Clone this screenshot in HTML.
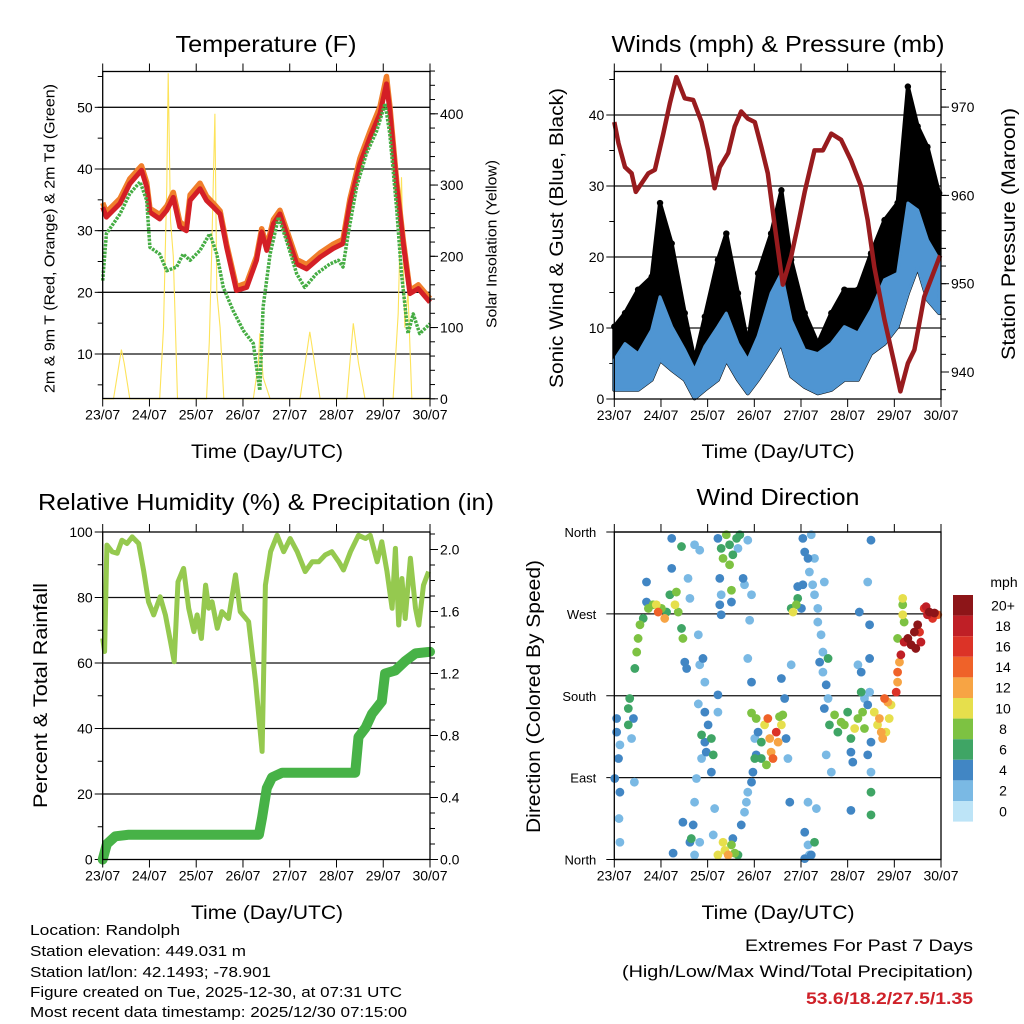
<!DOCTYPE html>
<html><head><meta charset="utf-8"><title>Station Meteogram</title>
<style>
html,body{margin:0;padding:0;background:#fff;}
svg{display:block;font-family:"Liberation Sans",sans-serif;}
</style></head>
<body>
<svg id="chart" width="1024" height="1024" viewBox="0 0 1024 1024" xmlns="http://www.w3.org/2000/svg">
<rect x="0" y="0" width="1024" height="1024" fill="#fff"/>
<text x="266" y="52" font-size="23" text-anchor="middle" textLength="181" lengthAdjust="spacingAndGlyphs">Temperature (F)</text>
<text x="778" y="52" font-size="23" text-anchor="middle" textLength="333" lengthAdjust="spacingAndGlyphs">Winds (mph) &amp; Pressure (mb)</text>
<text x="266" y="510" font-size="23" text-anchor="middle" textLength="456" lengthAdjust="spacingAndGlyphs">Relative Humidity (%) &amp; Precipitation (in)</text>
<text x="778" y="505" font-size="23" text-anchor="middle" textLength="163" lengthAdjust="spacingAndGlyphs">Wind Direction</text>
<text x="267" y="458" font-size="19" text-anchor="middle" textLength="152" lengthAdjust="spacingAndGlyphs">Time (Day/UTC)</text>
<text x="778" y="458" font-size="19" text-anchor="middle" textLength="153" lengthAdjust="spacingAndGlyphs">Time (Day/UTC)</text>
<text x="267" y="919" font-size="19" text-anchor="middle" textLength="152" lengthAdjust="spacingAndGlyphs">Time (Day/UTC)</text>
<text x="778" y="919" font-size="19" text-anchor="middle" textLength="153" lengthAdjust="spacingAndGlyphs">Time (Day/UTC)</text>
<text transform="translate(54.5,238.5) rotate(-90)" font-size="15" text-anchor="middle" textLength="309" lengthAdjust="spacingAndGlyphs">2m &amp; 9m T (Red, Orange) &amp; 2m Td (Green)</text>
<text transform="translate(496.5,244) rotate(-90)" font-size="15" text-anchor="middle" textLength="168" lengthAdjust="spacingAndGlyphs">Solar Insolation (Yellow)</text>
<text transform="translate(563,238) rotate(-90)" font-size="19" text-anchor="middle" textLength="300" lengthAdjust="spacingAndGlyphs">Sonic Wind &amp; Gust (Blue, Black)</text>
<text transform="translate(1015,234) rotate(-90)" font-size="19" text-anchor="middle" textLength="252" lengthAdjust="spacingAndGlyphs">Station Pressure (Maroon)</text>
<text transform="translate(47,695.5) rotate(-90)" font-size="19" text-anchor="middle" textLength="225" lengthAdjust="spacingAndGlyphs">Percent &amp; Total Rainfall</text>
<text transform="translate(540,696.5) rotate(-90)" font-size="19" text-anchor="middle" textLength="273" lengthAdjust="spacingAndGlyphs">Direction (Colored By Speed)</text>
<g font-size="15">
<text x="30" y="935" textLength="150" lengthAdjust="spacingAndGlyphs">Location: Randolph</text>
<text x="30" y="956" textLength="216" lengthAdjust="spacingAndGlyphs">Station elevation: 449.031 m</text>
<text x="30" y="977" textLength="241" lengthAdjust="spacingAndGlyphs">Station lat/lon: 42.1493; -78.901</text>
<text x="30" y="997" textLength="372" lengthAdjust="spacingAndGlyphs">Figure created on Tue, 2025-12-30, at 07:31 UTC</text>
<text x="30" y="1017" textLength="377" lengthAdjust="spacingAndGlyphs">Most recent data timestamp: 2025/12/30 07:15:00</text>
</g>
<g font-size="17" text-anchor="end">
<text x="973" y="951" textLength="228" lengthAdjust="spacingAndGlyphs">Extremes For Past 7 Days</text>
<text x="973" y="977" textLength="351" lengthAdjust="spacingAndGlyphs">(High/Low/Max Wind/Total Precipitation)</text>
<text x="973" y="1004" fill="#cf2129" font-weight="bold" textLength="167" lengthAdjust="spacingAndGlyphs">53.6/18.2/27.5/1.35</text>
</g>
</svg>
<script>
const dayLabels=["23/07","24/07","25/07","26/07","27/07","28/07","29/07","30/07"];
const tempRedDays=[0,0.08,0.37,0.58,0.83,0.94,1.01,1.22,1.37,1.51,1.65,1.79,1.87,2.08,2.22,2.37,2.51,2.65,2.86,3.08,3.29,3.40,3.51,3.65,3.79,3.93,4.15,4.36,4.65,4.93,5.14,5.29,5.50,5.72,5.93,6.07,6.14,6.29,6.43,6.57,6.75,7.0];
const tempRedVals=[33.8,32.2,34.4,37.6,39.8,37.1,33,31.9,33.3,35.4,30.6,30,34.9,36.8,34.9,33.8,32.7,27.3,20.3,20.8,25.2,29.8,26.8,31.1,32.7,29.5,24.6,23.8,25.7,27.1,27.9,34.4,40.8,45.2,49,53.8,49.5,37.1,27.9,19.8,20.6,18.4];
const tempOrangeVals=[34.5,33,35.2,38.4,40.5,37.8,33.6,32.6,34,36.2,31.4,30.6,35.8,37.7,35.6,34.4,33.2,27.8,20.9,21.5,25.8,30.3,27.4,31.8,33.3,30.2,25.3,24.5,26.4,27.8,28.6,35.2,41.7,46.2,50.1,55,50.3,37.8,28.4,20.3,21.2,19];
const tempDewDays=[0,0.08,0.37,0.58,0.80,0.94,1.01,1.22,1.37,1.58,1.72,1.87,2.08,2.29,2.44,2.58,2.79,3.01,3.22,3.36,3.43,3.58,3.76,3.93,4.15,4.32,4.57,4.86,5.04,5.14,5.25,5.43,5.64,5.86,6.04,6.14,6.29,6.39,6.53,6.64,6.78,7.0];
const tempDewVals=[21.9,29.5,32.7,36,37.9,34.9,27.3,26.2,23.5,24.1,26.2,25.2,26.8,29.5,26.2,20.8,17,13.8,11.7,4.1,17.6,26.2,32.2,28.4,23,20.8,23,24.6,25.2,24.1,29.5,37.1,42.5,46.2,50.6,45.7,33.3,23,13.3,16.5,13.3,14.9];
const solarDays=[0,0.23,0.33,0.40,0.46,0.58,1.22,1.30,1.37,1.40,1.45,1.51,1.60,2.22,2.28,2.33,2.40,2.44,2.51,2.59,3.22,3.33,3.36,3.43,3.58,4.22,4.43,4.65,5.22,5.36,5.47,5.61,6.21,6.32,6.39,6.46,6.53,6.61,7.0];
const solarVals=[0,0,40,69,50,0,0,100,300,457,250,200,0,0,80,200,400,150,100,0,0,50,92,30,0,0,94,0,0,106,50,0,0,120,311,100,150,0,0];
const windDays=[0.0,0.23,0.51,0.80,0.98,1.23,1.51,1.72,1.94,2.22,2.40,2.65,2.86,3.08,3.36,3.58,3.79,4.08,4.36,4.65,4.93,5.22,5.50,5.79,6.07,6.29,6.50,6.71,6.96];
const windLow=[1.3,1.3,1.3,2.7,5.5,4.1,2.7,0.1,1.3,2.7,5.5,2.7,0.8,2.7,5.5,7.8,3.2,1.7,0.8,1.3,2.7,2.7,6.4,7.8,10.2,14.9,18.6,14.0,12.1];
const windHigh=[5.5,7.8,6.4,9.7,14.4,10.2,6.9,4.1,7.4,10.2,12.1,7.8,5.5,8.8,14.9,17.7,11.1,6.9,6.4,7.8,10.2,9.3,12.5,16.8,17.7,27.6,26.6,22.4,19.6];
const gustHigh=[10.2,12.1,15.4,17.2,27.6,21.9,12.1,5.5,11.6,19.6,23.3,14.9,7.8,17.7,23.3,29.4,19.6,12.1,7.8,12.1,15.4,15.4,20.5,25.2,27.6,44.0,38.4,35.5,29.0];
const presDays=[0,0.09,0.23,0.37,0.46,0.73,0.87,1.05,1.19,1.33,1.51,1.69,1.87,2.01,2.15,2.26,2.44,2.58,2.72,2.86,3.01,3.15,3.29,3.44,3.61,3.79,3.93,4.08,4.29,4.47,4.65,4.86,5.07,5.29,5.43,5.57,5.79,6.0,6.13,6.29,6.43,6.64,6.98];
const presVals=[968.3,965.9,963.2,962.5,960.4,962.5,962.9,967,970.4,973.4,971,970.8,968.3,965.1,960.8,963.2,964.8,967.8,969.5,968.7,968.3,965.5,962.5,956.5,949.9,953.1,956.5,960.4,965.1,965.1,967,966.3,964,961,957.2,951.9,945.9,941,937.8,941,942.5,948.5,953.2];
const rhDays=[0,0.04,0.09,0.20,0.31,0.41,0.52,0.63,0.77,0.88,0.98,1.09,1.23,1.34,1.45,1.53,1.61,1.73,1.84,1.95,2.02,2.11,2.20,2.27,2.34,2.45,2.55,2.69,2.84,2.94,3.12,3.27,3.41,3.48,3.59,3.73,3.87,4.01,4.16,4.33,4.48,4.62,4.76,4.90,5.05,5.15,5.30,5.47,5.62,5.72,5.87,5.97,6.08,6.19,6.26,6.33,6.40,6.47,6.58,6.69,6.76,6.86,6.97];
const rhVals=[67.5,63.5,96,94,93.5,97.5,96.5,98.5,96.5,87.9,78.7,74.7,80.2,74.7,66.5,60.4,84.8,88.9,76.7,69.6,74.7,67.5,83.8,76.7,78.7,70.6,75.7,73.6,86.9,75.7,72.6,54.3,33,83.8,94,99,94,98,94,87.9,90.9,90.9,93,94,90.9,88.4,94,99,98,99,90.9,97,87.9,76.7,95,71.6,85.8,73.6,92,76.7,71.6,83.8,87.9];
const rainDays=[0,0.09,0.27,0.56,3.34,3.41,3.51,3.62,3.84,5.40,5.47,5.62,5.76,5.97,6.04,6.26,6.47,6.69,7.0];
const rainVals=[0,0.10,0.15,0.16,0.16,0.27,0.46,0.53,0.56,0.56,0.79,0.85,0.94,1.02,1.20,1.22,1.28,1.33,1.34];
const dirLabels=["North","East","South","West","North"];
const speedLabels=["0","2","4","6","8","10","12","14","16","18","20+"];
const speedColors=["#bde4f7","#7ab9e4","#4186c4","#3fa565","#7dc242","#e6df4c","#f7a444","#ef6229","#dc3327","#bf1f26","#8d1518"];
const windDirObs=[
[0.05,155,4],[0.05,140,4],[0.09,111,3],[0.01,89,4],[0.12,126,2],[0.30,166,6],[0.33,177,6],[0.30,148,6],[0.41,155,4],[0.37,133,2],[0.12,74,4],[0.10,45,2],[0.12,19,1],[0.43,85,1],
[0.44,210,6],[0.48,228,7],[0.51,243,7],[0.55,258,7],[0.62,265,6],[0.69,283,4],[0.69,305,4],[0.73,276,8],[0.83,280,8],[0.90,280,10],[0.94,272,14],[1.01,276,8],[1.08,265,12],[1.12,272,6],[1.19,291,6],[1.23,320,4],[1.30,280,10],[1.33,294,8],[1.37,272,8],[1.44,254,6],[1.47,243,8],[1.51,217,4],[1.55,210,4],[1.58,309,2],[1.62,287,2],[1.23,353,4],[1.44,344,6],[1.72,346,1],[1.83,340,1],[1.80,247,1],[1.90,221,4],[1.83,214,2],[1.94,195,2],
[1.80,171,2],[1.94,162,4],[1.87,137,6],[1.94,129,4],[2.01,148,4],[2.08,133,6],[2.12,115,6],[2.08,96,4],[1.97,118,4],[1.87,111,2],[1.76,89,1],[1.72,63,2],[1.69,38,4],[1.65,23,6],[1.72,5,1],[1.83,19,1],[1.62,19,4],[1.26,7,4],[1.47,41,4],[2.22,181,4],[2.22,162,1],
[2.22,353,4],[2.29,342,6],[2.33,331,8],[2.40,357,8],[2.47,346,6],[2.47,324,8],[2.54,335,6],[2.62,353,6],[2.69,357,6],[2.65,342,2],[2.26,309,4],[2.29,291,2],[2.51,296,8],[2.51,283,4],[2.26,280,4],[2.29,269,4],[2.76,309,4],[2.79,302,2],[2.94,291,1],[2.86,351,1],[2.90,263,2],[2.86,221,1],[2.94,195,4],
[2.22,5,10],[2.37,10,10],[2.44,5,12],[2.51,16,8],[2.58,7,8],[2.65,5,6],[2.33,19,10],[2.54,23,4],[2.72,38,4],[2.79,52,2],[2.83,63,2],[2.86,74,2],[2.94,85,4],[2.97,96,4],[3.01,111,6],[3.04,115,4],[2.15,56,2],[2.12,27,1],
[3.04,155,8],[3.08,140,4],[3.15,129,6],[3.22,148,10],[3.29,155,14],[3.33,133,12],[3.36,118,12],[3.40,111,14],[3.47,140,16],[3.51,129,12],[3.58,148,10],[3.61,159,8],[3.68,133,4],[3.72,111,2],[3.15,111,6],[3.26,104,8],[3.01,133,2],[2.94,161,8],[3.54,157,8],[3.58,199,4],[3.65,177,4],[3.76,63,4],[3.79,214,1],
[3.83,272,10],[3.90,280,8],[3.93,287,6],[3.79,276,6],[4.01,276,4],[4.04,353,4],[4.08,338,4],[4.15,331,4],[4.22,357,2],[4.18,316,2],[4.25,302,1],[4.29,291,2],[4.36,276,2],[4.36,261,2],[4.43,247,2],[4.47,228,1],[4.40,217,4],[4.47,206,2],[4.54,192,4],[4.58,177,2],[4.04,302,4],[3.93,300,4],[4.29,331,2],[4.50,305,2],[4.58,221,6],
[4.08,30,4],[4.15,16,2],[4.22,5,4],[4.29,19,6],[4.08,1,4],[4.18,5,2],[4.15,63,1],[4.33,56,1],
[4.50,166,4],[4.61,148,6],[4.72,159,8],[4.79,140,6],[4.86,151,8],[4.93,148,8],[5.00,162,6],[5.07,133,6],[5.15,144,10],[5.22,155,8],[5.29,184,6],[5.32,162,8],[5.36,144,8],[5.43,170,4],[5.50,129,4],[5.57,162,10],[5.64,148,10],[5.72,140,12],[4.54,115,2],[4.65,96,2],[5.07,118,4],[5.11,107,4],[5.43,115,4],[5.50,96,2],[5.50,74,6],[5.50,49,6],[5.07,54,4],[5.22,214,2],[5.29,206,4],[5.47,221,4],[5.47,258,4],[5.25,272,4],[5.43,305,1],[5.50,351,4],[5.47,184,2],[5.36,177,2],
[5.79,177,14],[5.86,173,12],[5.93,170,10],[6.04,184,16],[6.07,206,14],[6.11,217,12],[6.07,195,12],[6.14,225,18],[6.21,239,18],[6.29,243,20],[6.36,236,20],[6.43,250,20],[6.50,258,20],[6.46,232,20],[6.57,239,18],[6.54,250,16],[6.18,269,10],[6.18,287,10],[6.18,280,8],[6.21,261,8],[6.64,276,16],[6.71,269,18],[6.82,265,16],[6.93,269,14],[6.75,272,20],[6.86,271,20],[6.68,278,18],[6.07,243,8],[5.89,155,10],[5.82,140,10],[5.75,133,12],[5.68,155,12]
];

const NS='http://www.w3.org/2000/svg';
const svg=document.getElementById('chart');
function mk(tag,attrs,name,parent){
  const el=document.createElementNS(NS,tag);
  for(const k in attrs) el.setAttribute(k,attrs[k]);
  
  
  (parent||svg).appendChild(el);
  return el;
}
function txt(x,y,s,size,anchor,name,parent){
  const t=mk('text',{x:x,y:y,'font-size':size,'text-anchor':anchor},name,parent);
  t.textContent=s;
  return t;
}
function pathFrom(xs,ys){let d='';for(let i=0;i<xs.length;i++){d+=(i?'L':'M')+xs[i].toFixed(1)+' '+ys[i].toFixed(1);}return d;}

const P1={l:102.7,r:430,t:71.5,b:398.5};
const P2={l:614.3,r:941,t:71.5,b:399};
const P3={l:102.7,r:430,t:532,b:859.5};
const P4={l:614.3,r:941,t:532,b:859.5};
function xs(P){return d=>P.l+(P.r-P.l)*d/7;}

function xAxis(P,g,prefix){
  const X=xs(P);
  for(let k=0;k<dayLabels.length;k++){
    const x=X(k);
    mk('line',{x1:x,y1:P.t,x2:x,y2:P.t-8,stroke:'#000','stroke-width':1},prefix+'-top-tick',g);
    mk('line',{x1:x,y1:P.b,x2:x,y2:P.b+8,stroke:'#000','stroke-width':1},prefix+'-x-tick',g);
    txt(x,P.b+21,dayLabels[k],14,'middle',prefix+'-x-tick-label',g);
  }
}
function yTicks(P,g,side,yf,major,minor,fmt,grid,prefix){
  const x0=side==='l'?P.l:P.r, dir=side==='l'?-1:1;
  minor.forEach(v=>{const y=yf(v); if(y<P.t-0.5||y>P.b+0.5) return;
    mk('line',{x1:x0,y1:y,x2:x0+dir*5,y2:y,stroke:'#000','stroke-width':1},prefix+'-minor-tick',g);});
  major.forEach(v=>{const y=yf(v);
    if(grid && y>P.t+1 && y<P.b-1) mk('line',{x1:P.l,y1:y,x2:P.r,y2:y,stroke:'#111','stroke-width':1.3},prefix+'-gridline',g);
    mk('line',{x1:x0,y1:y,x2:x0+dir*8,y2:y,stroke:'#000','stroke-width':1},prefix+'-tick',g);
    if(fmt) txt(side==='l'?P.l-10:P.r+10,y+5,fmt(v),14,side==='l'?'end':'start',prefix+'-tick-label',g);
  });
}
function frame(P,g,name){mk('rect',{x:P.l,y:P.t,width:P.r-P.l,height:P.b-P.t,fill:'none',stroke:'#000','stroke-width':1.3},name,g);}
function range(a,b,s){const r=[];for(let v=a;v<=b+1e-9;v+=s)r.push(+v.toFixed(4));return r;}

(function(){
  const g=mk('g',{},'temperature-panel');
  const X=xs(P1);
  const yT=v=>354-(v-10)*6.167;
  const yS=v=>398.8-v*0.7125;
  yTicks(P1,g,'l',yT,[10,20,30,40,50],range(5,55,5),v=>String(v),true,'temp-y');
  mk('path',{d:pathFrom(solarDays.map(X),solarVals.map(yS)),fill:'none',stroke:'#fde35a','stroke-width':1.1},'solar-insolation-line',g);
  mk('path',{d:pathFrom(tempRedDays.map(X),tempOrangeVals.map(yT)),fill:'none',stroke:'#f07e2b','stroke-width':5.5,'stroke-linejoin':'round'},'temp-9m-orange-line',g);
  mk('path',{d:pathFrom(tempRedDays.map(X),tempRedVals.map(yT)),fill:'none',stroke:'#d41f26','stroke-width':5,'stroke-linejoin':'round'},'temp-2m-red-line',g);
  mk('path',{d:pathFrom(tempDewDays.map(X),tempDewVals.map(yT)),fill:'none',stroke:'#46ad44','stroke-width':3.5,'stroke-dasharray':'2.6 1.2','stroke-linejoin':'round'},'dewpoint-green-line',g);
  yTicks(P1,g,'r',yS,[0,100,200,300,400],range(0,460,20),v=>String(v),false,'solar-y');
  frame(P1,g,'temperature-plot-frame');
  xAxis(P1,g,'temp');
})();

(function(){
  const g=mk('g',{},'winds-panel');
  const X=xs(P2);
  const yW=v=>399-v*7.1;
  const yP=v=>372-(v-940)*8.83;
  yTicks(P2,g,'l',yW,[0,10,20,30,40],range(0,45,5),v=>String(v),true,'wind-y');
  const dx=windDays.map(X);
  const up=pathFrom(dx,gustHigh.map(yW));
  const lowRev=windLow.map(yW).slice().reverse();
  const dxRev=dx.slice().reverse();
  let band=up; for(let i=0;i<dxRev.length;i++) band+='L'+dxRev[i].toFixed(1)+' '+lowRev[i].toFixed(1);
  mk('path',{d:band+'Z',fill:'#000',stroke:'#000','stroke-width':4,'stroke-linejoin':'round'},'gust-black-points-band',g);
  gustHigh.forEach((v,i)=>{
    mk('circle',{cx:dx[i],cy:yW(v),r:3.2,fill:'#000'},'gust-point',g);
  });
  let wb=pathFrom(dx,windHigh.map(yW)); for(let i=0;i<dxRev.length;i++) wb+='L'+dxRev[i].toFixed(1)+' '+lowRev[i].toFixed(1);
  mk('path',{d:wb+'Z',fill:'#4f95d2',stroke:'#4f95d2','stroke-width':3,'stroke-linejoin':'round'},'sonic-wind-blue-band',g);
  mk('path',{d:pathFrom(presDays.map(X),presVals.map(yP)),fill:'none',stroke:'#981b1e','stroke-width':4.5,'stroke-linejoin':'round'},'pressure-maroon-line',g);
  yTicks(P2,g,'r',yP,[940,950,960,970],range(938,974,2),v=>String(v),false,'pressure-y');
  frame(P2,g,'winds-plot-frame');
  xAxis(P2,g,'winds');
})();

(function(){
  const g=mk('g',{},'humidity-panel');
  const X=xs(P3);
  const yH=v=>859.5-v*3.275;
  const yR=v=>859.5-v*155;
  yTicks(P3,g,'l',yH,[0,20,40,60,80,100],range(0,100,10),v=>String(v),true,'rh-y');
  mk('path',{d:pathFrom(rhDays.map(X),rhVals.map(yH)),fill:'none',stroke:'#95c94f','stroke-width':5,'stroke-linejoin':'round'},'relative-humidity-line',g);
  mk('path',{d:pathFrom(rainDays.map(X),rainVals.map(yR)),fill:'none',stroke:'#47b247','stroke-width':10,'stroke-linejoin':'round','stroke-linecap':'round'},'total-rainfall-line',g);
  yTicks(P3,g,'r',yR,[0,0.4,0.8,1.2,1.6,2.0],range(0,2.1,0.1),v=>v.toFixed(1),false,'rain-y');
  frame(P3,g,'humidity-plot-frame');
  xAxis(P3,g,'humidity');
})();

(function(){
  const g=mk('g',{},'wind-direction-panel');
  const X=xs(P4);
  const yD=v=>859.5-v*(327.5/360);
  const degTicks=[0,90,180,270,360];
  degTicks.forEach((v,i)=>{
    const y=yD(v);
    mk('line',{x1:P4.l,y1:y,x2:P4.r,y2:y,stroke:'#111','stroke-width':1.3},'direction-gridline',g);
    mk('line',{x1:P4.l,y1:y,x2:P4.l-8,y2:y,stroke:'#000','stroke-width':1},'direction-y-tick',g);
    txt(P4.l-18,y+5,dirLabels[i],13,'end','direction-y-tick-label',g);
  });
  const sorted=windDirObs.slice().sort((a,b)=>a[2]-b[2]);
  sorted.forEach(o=>{
    const idx=Math.min(10,Math.round(o[2]/2));
    mk('circle',{cx:X(o[0]),cy:yD(o[1]),r:4.4,fill:speedColors[idx]},'direction-point',g);
  });
  frame(P4,g,'direction-plot-frame');
  xAxis(P4,g,'direction');
  const cb=mk('g',{},'speed-colorbar');
  txt(1004,587,'mph',14,'middle','colorbar-title',cb);
  for(let i=0;i<speedLabels.length;i++){
    const k=speedLabels.length-1-i;
    const y=595+i*20.6;
    mk('rect',{x:953,y:y,width:20,height:20.6,fill:speedColors[k]},'colorbar-box',cb);
    txt(1003,y+15.3,speedLabels[k],14,'middle','colorbar-label',cb);
  }
})();
</script>
</body></html>
